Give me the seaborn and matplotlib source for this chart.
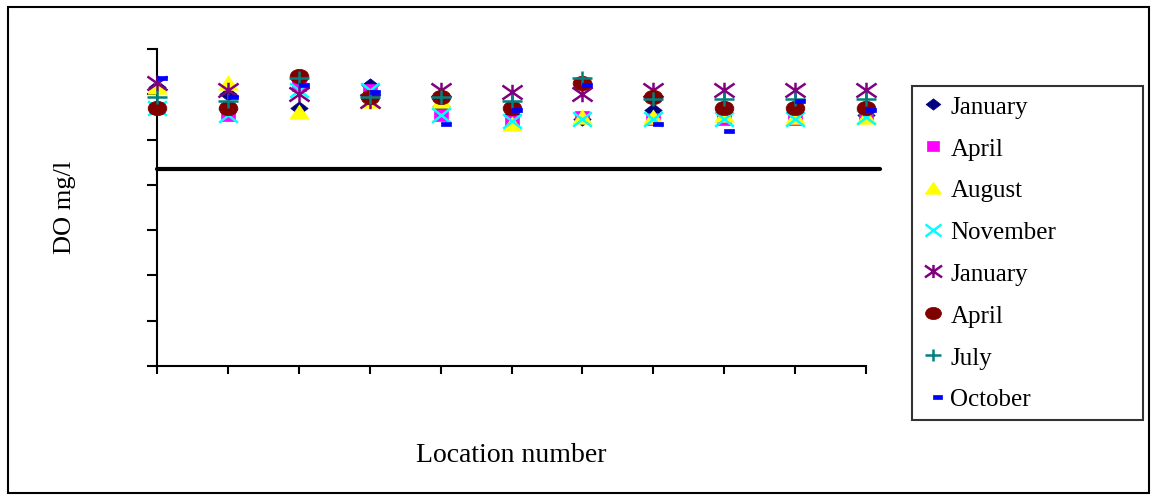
import numpy as np
import pandas as pd
import matplotlib
matplotlib.use("Agg")
import matplotlib.pyplot as plt
from matplotlib.path import Path
from matplotlib.markers import MarkerStyle
from matplotlib.lines import Line2D
from matplotlib.patches import Rectangle
import seaborn as sns

# Dissolved oxygen (mg/l) at eleven sampling locations, two survey years
locations = [1, 2, 3, 4, 5, 6, 7, 8, 9, 10, 11]
series_names = ["January", "April", "August", "November",
                "January", "April", "July", "October"]
do_jan_1 = [12.3, 12.0, 11.4, 12.4, 11.5, 11.1, 10.9, 11.3, 11.3, 11.2, 11.1]
do_apr_1 = [11.4, 11.1, 12.4, 12.2, 11.1, 10.8, 11.0, 10.9, 10.9, 10.9, 11.0]
do_aug_1 = [12.3, 12.5, 11.2, 11.7, 11.7, 10.7, 11.0, 11.0, 11.1, 11.0, 11.0]
do_nov_1 = [11.4, 11.1, 12.2, 12.2, 11.1, 10.8, 10.9, 10.9, 10.9, 10.9, 11.0]
do_jan_2 = [12.5, 12.2, 12.0, 11.7, 12.2, 12.1, 12.0, 12.2, 12.2, 12.2, 12.2]
do_apr_2 = [11.4, 11.4, 12.8, 11.9, 11.9, 11.4, 12.5, 11.9, 11.4, 11.4, 11.4]
do_jul_2 = [11.9, 11.7, 12.7, 11.9, 11.9, 11.7, 12.7, 11.8, 11.8, 11.8, 11.8]
do_oct_2 = [12.7, 11.9, 12.4, 12.1, 10.7, 11.3, 12.4, 10.7, 10.4, 11.7, 11.3]
do_standard = 8.7

all_values = [do_jan_1, do_apr_1, do_aug_1, do_nov_1,
              do_jan_2, do_apr_2, do_jul_2, do_oct_2]

# ---- marker shapes (slightly wider than tall) ----
sx = 1.3


def closed(verts):
    verts = list(verts) + [verts[0]]
    codes = [Path.MOVETO] + [Path.LINETO] * (len(verts) - 2) + [Path.CLOSEPOLY]
    return Path(verts, codes)


def segments(segs):
    verts, codes = [], []
    for a, b in segs:
        verts += [a, b]
        codes += [Path.MOVETO, Path.LINETO]
    return Path(verts, codes)


diamond = closed([(0.5 * sx, 0), (0, 0.5), (-0.5 * sx, 0), (0, -0.5)])
square = closed([(-0.5 * sx, -0.5), (0.5 * sx, -0.5), (0.5 * sx, 0.5), (-0.5 * sx, 0.5)])
triangle = closed([(0, 0.5), (-0.5 * sx, -0.45), (0.5 * sx, -0.45)])
circ = Path.unit_circle()
ellipse = Path(circ.vertices * np.array([0.5 * sx, 0.5]), circ.codes)
cross = segments([((-0.5 * sx, -0.5), (0.5 * sx, 0.5)),
                  ((-0.5 * sx, 0.5), (0.5 * sx, -0.5))])
star = segments([((-0.5 * sx, -0.45), (0.5 * sx, 0.45)),
                 ((-0.5 * sx, 0.45), (0.5 * sx, -0.45)),
                 ((0, -0.5), (0, 0.5))])
plus = segments([((-0.5 * sx, 0), (0.5 * sx, 0)), ((0, -0.5), (0, 0.5))])
dash = closed([(0, -0.2), (1.0, -0.2), (1.0, 0.2), (0, 0.2)])

styles = [
    dict(marker=diamond, color="#000080", size=12.5, lw=0.5),
    dict(marker=square, color="#FF00FF", size=10.5, lw=0.5),
    dict(marker=triangle, color="#FFFF00", size=14.0, lw=0.5),
    dict(marker=cross, color="#00FFFF", size=13.5, lw=1.8),
    dict(marker=star, color="#800080", size=14.5, lw=1.8),
    dict(marker=ellipse, color="#800000", size=13.5, lw=0.5),
    dict(marker=plus, color="#008080", size=14.0, lw=1.8),
    dict(marker=dash, color="#0000FF", size=15.0, lw=0.5),
]

sns.set_theme(style="white")
plt.rcParams["font.family"] = ["Liberation Serif", "DejaVu Serif"]
plt.rcParams["text.color"] = "black"

fig = plt.figure(figsize=(11.57, 5.02), dpi=100)
ax = fig.add_axes([157 / 1157, 1 - 367 / 502, (866 - 157) / 1157, (367 - 50) / 502])

for vals, st in zip(all_values, styles):
    df = pd.DataFrame({"loc": locations, "do": vals})
    sns.scatterplot(data=df, x="loc", y="do", ax=ax,
                    marker=MarkerStyle(st["marker"]), s=st["size"] ** 2,
                    color=st["color"], edgecolor=st["color"],
                    linewidth=st["lw"], legend=False, zorder=3, clip_on=False)

# Reference level
ax.axhline(do_standard, xmin=0, xmax=(880 - 157) / (866 - 157), color="black",
           linewidth=3, clip_on=False, zorder=2)

ax.set_xlim(1, 11)
ax.set_ylim(0, 14)
ax.set_xticks(locations)
ax.set_yticks(np.arange(0, 15, 2))
ax.set_xticklabels([])
ax.set_yticklabels([])
ax.tick_params(axis="x", direction="out", length=6, width=1.5, colors="black", bottom=True)
ax.tick_params(axis="y", direction="out", length=7, width=1.5, colors="black", left=True)
for side in ["top", "right"]:
    ax.spines[side].set_visible(False)
for side in ["left", "bottom"]:
    ax.spines[side].set_color("black")
    ax.spines[side].set_linewidth(1.5)
ax.set_facecolor("white")
ax.grid(False)

ax.set_xlabel("Location number", fontsize=20, color="black")
ax.xaxis.set_label_coords(0.5, (367 - 456) / 317)
ax.xaxis.label.set_va("center")
ax.set_ylabel("DO mg/l", fontsize=19, color="black")
ax.yaxis.set_label_coords((65 - 157) / 709, (367 - 207) / 317)
ax.yaxis.label.set_va("center")

handles = [Line2D([], [], linestyle="None", marker=MarkerStyle(st["marker"]),
                  markersize=st["size"] * 0.85, color=st["color"],
                  markerfacecolor=st["color"], markeredgecolor=st["color"],
                  markeredgewidth=st["lw"])
           for st in styles]
leg = fig.legend(handles, series_names, loc="upper left",
                 bbox_to_anchor=(912 / 1157, 1 - 87 / 502 - 0.01, (1143 - 912) / 1157, 0.01),
                 mode="expand", fontsize=18, frameon=True, fancybox=False,
                 edgecolor="black", labelspacing=0.77, handlelength=0.9,
                 handletextpad=0.25, borderpad=0.38, borderaxespad=0)
leg.get_frame().set_linewidth(1.5)
for t in leg.get_texts():
    t.set_color("black")

fig.add_artist(Rectangle((8 / 1157, 8 / 502), (1149 - 8) / 1157, (494 - 8) / 502,
                         transform=fig.transFigure, fill=False,
                         edgecolor="black", linewidth=1.5))

fig.savefig("out.png", dpi=100, facecolor="white")
